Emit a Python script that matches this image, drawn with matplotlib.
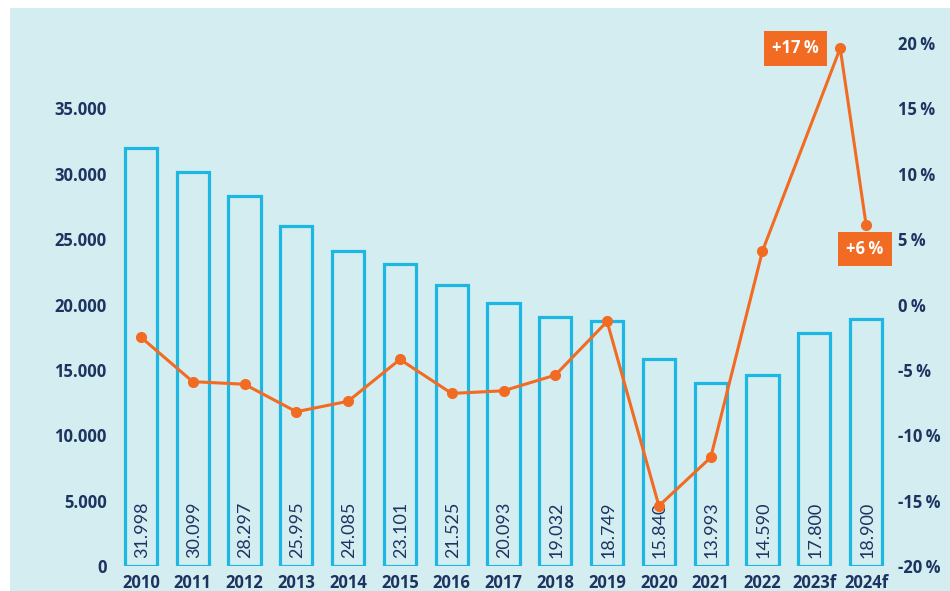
import numpy as np
import matplotlib.pyplot as plt
from matplotlib.patches import Rectangle

# donnees
years = ['2010', '2011', '2012', '2013', '2014', '2015', '2016', '2017',
         '2018', '2019', '2020', '2021', '2022', '2023f', '2024f']
volumes = [31998, 30099, 28297, 25995, 24085, 23101, 21525, 20093,
           19032, 18749, 15840, 13993, 14590, 17800, 18900]
growth = [-2.5, -5.9, -6.1, -8.2, -7.4, -4.2, -6.8, -6.6,
          -5.4, -1.3, -15.4, -11.7, 4.1, 19.6, 6.1]
# le point 2023f est decale vers la droite sur l'original
growth_pos = [0, 1, 2, 3, 4, 5, 6, 7, 8, 9, 10, 11, 12, 13.5, 14]
left_ticks = [0, 5000, 10000, 15000, 20000, 25000, 30000, 35000]
right_ticks = [-20, -15, -10, -5, 0, 5, 10, 15, 20]
callouts = {13: '+17\u2009%', 14: '+6\u2009%'}

BG = '#d4edf1'
CYAN = '#1cb8e3'
ORANGE = '#f26b23'
NAVY = '#1d3461'

plt.rcParams['font.family'] = ['Open Sans', 'DejaVu Sans']

fig = plt.figure(figsize=(9.5, 5.91), dpi=100)
fig.patches.append(Rectangle((10 / 950, 0), 1, 1 - 8 / 591, transform=fig.transFigure,
                             facecolor=BG, edgecolor='none', zorder=-10))

ax = fig.add_axes([115 / 950, 1 - 566 / 591, 777 / 950, 523 / 591])
ax.set_facecolor('none')
x = np.arange(len(years))

ax.bar(x, volumes, width=0.62, facecolor='none', edgecolor=CYAN, linewidth=2.3, zorder=2)
for xi, v in zip(x, volumes):
    ax.text(xi + 0.02, 600, '{:,}'.format(v).replace(',', '.'), rotation=90, ha='center',
            va='bottom', fontsize=13, color=NAVY, zorder=3,
            family=['Lato', 'DejaVu Sans'])

ax.set_xlim(-0.5, len(years) - 0.5)
ax.set_ylim(0, 40000)
ax.set_yticks(left_ticks)
ax.set_yticklabels(['{:,}'.format(t).replace(',', '.') for t in left_ticks])
ax.set_xticks(x)
ax.set_xticklabels(years)
ax.tick_params(axis='both', length=0, labelsize=12, labelcolor=NAVY)
ax.tick_params(axis='y', pad=6)
ax.tick_params(axis='x', pad=6)
for lab in ax.get_xticklabels() + ax.get_yticklabels():
    lab.set_fontweight('bold')
for s in ax.spines.values():
    s.set_visible(False)

ax2 = ax.twinx()
ax2.plot(growth_pos, growth, color=ORANGE, linewidth=2.2, marker='o', markersize=7, zorder=4)
ax2.set_ylim(-20, 20)
ax2.set_yticks(right_ticks)
ax2.set_yticklabels(['%d\u2009%%' % t for t in right_ticks])
ax2.tick_params(axis='y', length=0, labelsize=12, labelcolor=NAVY, pad=4)
for lab in ax2.get_yticklabels():
    lab.set_fontweight('bold')
for s in ax2.spines.values():
    s.set_visible(False)

# etiquettes orange
ax2.annotate(callouts[13], xy=(growth_pos[13], growth[13]), xytext=(-32, 0),
             textcoords='offset points', ha='center', va='center', fontsize=12,
             fontweight='bold', color='white',
             bbox=dict(boxstyle='square,pad=0.5', facecolor=ORANGE, edgecolor='none'))
ax2.annotate(callouts[14], xy=(growth_pos[14], growth[14]), xytext=(-1, -17.5),
             textcoords='offset points', ha='center', va='center', fontsize=12,
             fontweight='bold', color='white',
             bbox=dict(boxstyle='square,pad=0.5', facecolor=ORANGE, edgecolor='none'))

fig.savefig('out.png', dpi=100)
